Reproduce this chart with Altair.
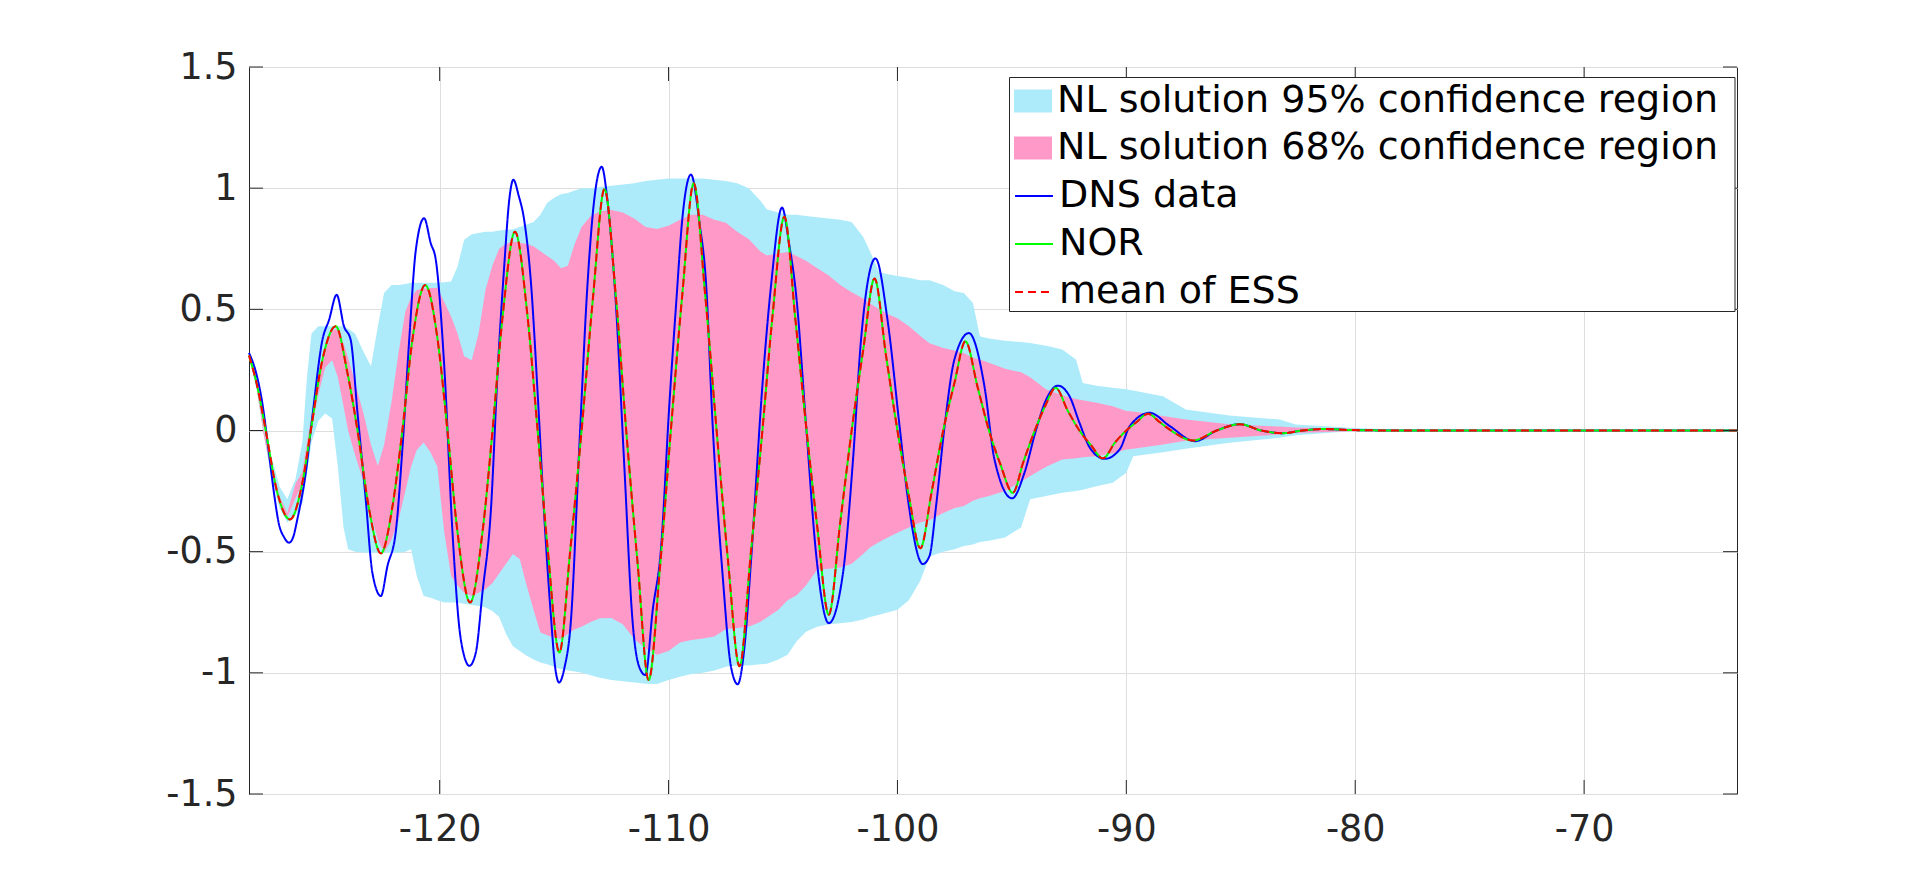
import altair as alt
import pandas as pd

# ---------------- data ----------------
band_x = [-128.33, -128.0, -127.7, -127.4, -127.0, -126.66, -126.3, -126.0, -125.8, -125.6,
          -125.3, -125.0, -124.7, -124.45, -124.2, -124.0, -123.7, -123.3, -123.0, -122.7,
          -122.43, -122.1, -121.8, -121.5, -121.25, -121.0, -120.7, -120.4, -120.1, -119.8,
          -119.5, -119.22, -118.93, -118.6, -118.3, -118.0, -117.7, -117.4, -117.1, -116.8,
          -116.5, -116.2, -115.9, -115.6, -115.3, -115.0, -114.7, -114.4, -114.1, -113.8,
          -113.4, -113.0, -112.5, -112.0, -111.5, -111.0, -110.5, -110.0, -109.5, -109.0,
          -108.5, -108.0, -107.5, -107.0, -106.5, -106.0, -105.7, -105.2, -104.8, -104.4,
          -104.0, -103.5, -103.0, -102.5, -102.0, -101.5, -101.2, -100.8, -100.4, -100.0,
          -99.5, -99.0, -98.6, -98.0, -97.5, -97.1, -96.7, -96.4, -96.0, -95.3,
          -94.6, -94.2, -93.5, -92.8, -92.2, -91.9, -91.3, -90.6, -90.0, -89.7,
          -88.4, -87.4, -85.5, -83.3, -82.6, -80.2, -78.0, -63.32]
u95 = [0.32, 0.22, 0.03, -0.09, -0.23, -0.284, -0.20, -0.05, 0.22, 0.40,
       0.43, 0.43, 0.43, 0.43, 0.43, 0.42, 0.40, 0.32, 0.265, 0.43,
       0.567, 0.60, 0.60, 0.605, 0.61, 0.61, 0.61, 0.61, 0.61, 0.612,
       0.615, 0.677, 0.787, 0.81, 0.815, 0.82, 0.82, 0.825, 0.828, 0.83,
       0.84, 0.85, 0.86, 0.89, 0.94, 0.96, 0.975, 0.98, 0.99, 1.0,
       1.0, 1.005, 1.01, 1.015, 1.02, 1.03, 1.035, 1.04, 1.04, 1.04,
       1.04, 1.035, 1.03, 1.02, 1.0, 0.95, 0.912, 0.90, 0.89, 0.89,
       0.885, 0.88, 0.875, 0.87, 0.86, 0.80, 0.74, 0.653, 0.645, 0.638,
       0.63, 0.62, 0.62, 0.60, 0.575, 0.567, 0.526, 0.389, 0.38, 0.37,
       0.365, 0.361, 0.35, 0.334, 0.293, 0.196, 0.185, 0.176, 0.17, 0.165,
       0.141, 0.087, 0.062, 0.045, 0.025, 0.011, 0.003, 0.0]
l95 = [0.30, 0.17, -0.01, -0.17, -0.32, -0.38, -0.35, -0.30, -0.18, -0.05,
       0.04, 0.07, 0.05, -0.15, -0.40, -0.49, -0.50, -0.504, -0.504, -0.504,
       -0.504, -0.504, -0.504, -0.50, -0.49, -0.60, -0.683, -0.69, -0.70, -0.71,
       -0.71, -0.71, -0.715, -0.72, -0.724, -0.73, -0.745, -0.77, -0.84, -0.89,
       -0.91, -0.93, -0.945, -0.957, -0.965, -0.975, -0.985, -0.99, -0.995, -1.0,
       -1.01, -1.02, -1.03, -1.035, -1.04, -1.045, -1.046, -1.03, -1.016, -1.005,
       -1.0, -0.99, -0.975, -0.97, -0.97, -0.965, -0.963, -0.945, -0.925, -0.87,
       -0.83, -0.81, -0.80, -0.795, -0.79, -0.78, -0.77, -0.76, -0.75, -0.74,
       -0.70, -0.62, -0.52, -0.50, -0.49, -0.477, -0.47, -0.46, -0.455, -0.442,
       -0.40, -0.284, -0.27, -0.257, -0.25, -0.245, -0.23, -0.216, -0.174, -0.106,
       -0.09, -0.075, -0.051, -0.03, -0.02, -0.003, -0.002, 0.0]
u68 = [0.31, 0.20, 0.01, -0.12, -0.27, -0.34, -0.22, -0.17, -0.05, 0.06,
       0.20, 0.33, 0.41, 0.423, 0.36, 0.30, 0.20, 0.06, -0.06, -0.147,
       -0.06, 0.12, 0.32, 0.49, 0.55, 0.58, 0.585, 0.588, 0.588, 0.53,
       0.47, 0.40, 0.306, 0.29, 0.40, 0.58, 0.68, 0.75, 0.77, 0.78,
       0.775, 0.77, 0.76, 0.74, 0.72, 0.70, 0.67, 0.68, 0.77, 0.84,
       0.885, 0.905, 0.91, 0.90, 0.875, 0.84, 0.832, 0.845, 0.87, 0.89,
       0.89, 0.87, 0.857, 0.82, 0.79, 0.74, 0.722, 0.73, 0.737, 0.72,
       0.70, 0.67, 0.64, 0.60, 0.57, 0.545, 0.524, 0.50, 0.48, 0.463,
       0.43, 0.39, 0.36, 0.34, 0.33, 0.32, 0.30, 0.293, 0.28, 0.255,
       0.24, 0.22, 0.169, 0.145, 0.13, 0.125, 0.115, 0.10, 0.08, 0.078,
       0.06, 0.045, 0.026, 0.016, 0.012, 0.007, 0.002, 0.0]
l68 = [0.30, 0.18, -0.01, -0.15, -0.30, -0.36, -0.28, -0.22, -0.10, 0.0,
       0.15, 0.26, 0.29, 0.22, 0.10, 0.0, -0.10, -0.22, -0.35, -0.45,
       -0.504, -0.45, -0.37, -0.25, -0.15, -0.08, -0.05, -0.09, -0.15, -0.42,
       -0.60, -0.64, -0.67, -0.683, -0.67, -0.655, -0.63, -0.59, -0.55, -0.51,
       -0.53, -0.64, -0.74, -0.834, -0.845, -0.855, -0.86, -0.84, -0.82, -0.81,
       -0.79, -0.775, -0.774, -0.80, -0.86, -0.90, -0.925, -0.91, -0.875, -0.865,
       -0.858, -0.85, -0.82, -0.815, -0.81, -0.79, -0.772, -0.74, -0.70, -0.68,
       -0.64, -0.574, -0.57, -0.565, -0.55, -0.51, -0.483, -0.46, -0.44, -0.422,
       -0.40, -0.38, -0.37, -0.34, -0.32, -0.312, -0.29, -0.28, -0.27, -0.25,
       -0.21, -0.188, -0.15, -0.12, -0.115, -0.11, -0.106, -0.095, -0.078, -0.075,
       -0.058, -0.042, -0.03, -0.016, -0.01, -0.003, -0.002, 0.0]

dns_x = [-128.33, -128.04, -127.75, -127.46, -127.24, -127.02, -126.8, -126.58, -126.4, -126.22,
         -125.85, -125.56, -125.12, -124.83, -124.5, -124.18, -123.89, -123.59, -123.23, -122.94,
         -122.57, -122.28, -121.92, -121.63, -121.33, -121.04, -120.68, -120.39, -120.17, -119.8,
         -119.44, -119.15, -118.93, -118.7, -118.42, -118.13, -117.76, -117.47, -117.18, -116.95,
         -116.78, -116.55, -116.31, -116.01, -115.72, -115.43, -115.14, -114.95, -114.78, -114.55,
         -114.27, -113.9, -113.54, -113.24, -112.92, -112.66, -112.3, -111.93, -111.57, -111.28,
         -111.01, -110.69, -110.33, -109.97, -109.67, -109.38, -109.02, -108.65, -108.36, -108.07,
         -107.63, -107.27, -106.98, -106.68, -106.39, -105.91, -105.52, -105.04, -104.75, -104.42,
         -103.99, -103.55, -103.0, -102.38, -101.95, -101.58, -100.96, -100.42, -99.91, -99.54,
         -98.89, -98.6, -98.31, -97.94, -97.51, -96.88, -96.2, -95.76, -94.99, -94.45,
         -93.94, -93.5, -92.99, -92.48, -92.04, -91.6, -90.95, -90.29, -89.85, -88.98,
         -88.1, -87.0, -86.05, -85.04, -84.1, -83.15, -82.3, -81.4, -80.2, -78.0, -63.32]
dns_y = [0.32, 0.245, 0.114, -0.092, -0.257, -0.387, -0.44, -0.463, -0.44, -0.367,
         -0.174, 0.059, 0.375, 0.457, 0.56, 0.43, 0.375, 0.073, -0.284, -0.587,
         -0.683, -0.559, -0.42, -0.078, 0.375, 0.746, 0.876, 0.773, 0.705, 0.265,
         -0.42, -0.806, -0.93, -0.971, -0.916, -0.669, -0.326, 0.238, 0.677, 0.96,
         1.035, 0.97, 0.87, 0.608, 0.155, -0.353, -0.765, -0.98, -1.04, -0.98,
         -0.79, -0.07, 0.605, 0.958, 1.088, 0.94, 0.521, -0.152, -0.79, -0.976,
         -1.009, -0.74, -0.488, 0.1, 0.521, 0.891, 1.056, 0.857, 0.605, 0.016,
         -0.606, -0.976, -1.047, -0.89, -0.528, 0.173, 0.60, 0.92, 0.78, 0.554,
         0.02, -0.513, -0.795, -0.589, -0.132, 0.386, 0.71, 0.447, 0.02, -0.284,
         -0.551, -0.518, -0.31, 0.018, 0.293, 0.402, 0.183, -0.12, -0.28, -0.174,
         0.004, 0.128, 0.185, 0.141, 0.03, -0.07, -0.117, -0.078, 0.018, 0.073,
         0.018, -0.044, 0.0, 0.026, 0.0, -0.011, 0.0, 0.006, 0.002, 0.0, 0.0]

mean_x = [-128.33, -127.97, -127.6, -127.09, -126.54, -126.0, -125.63, -125.12, -124.54, -124.03,
          -123.59, -123.08, -122.57, -122.06, -121.63, -121.19, -120.63, -120.09, -119.66, -119.22,
          -118.67, -118.13, -117.69, -117.25, -116.71, -116.16, -115.72, -115.28, -114.77, -114.3,
          -113.8, -113.3, -112.8, -112.3, -111.85, -111.35, -110.87, -110.37, -109.9, -109.4,
          -108.9, -108.4, -107.9, -107.4, -106.9, -106.4, -105.9, -105.45, -104.94, -104.45,
          -103.97, -103.5, -103.0, -102.5, -102.0, -101.5, -101.0, -100.5, -100.0, -99.5,
          -99.0, -98.5, -98.0, -97.5, -97.03, -96.5, -96.0, -95.5, -94.96, -94.5,
          -94.0, -93.55, -93.09, -92.55, -92.05, -91.55, -91.02, -90.5, -90.0, -89.55,
          -89.05, -88.55, -88.05, -87.08, -86.05, -85.04, -84.1, -83.15, -82.3, -81.4,
          -80.2, -78.0, -63.32]
mean_y = [0.31, 0.183, 0.0, -0.257, -0.367, -0.216, 0.0, 0.293, 0.43, 0.238,
          0.0, -0.326, -0.507, -0.312, 0.0, 0.375, 0.60, 0.375, 0.0, -0.42,
          -0.71, -0.42, 0.0, 0.47, 0.82, 0.47, 0.0, -0.49, -0.916, -0.5,
          0.0, 0.55, 0.996, 0.55, 0.0, -0.55, -1.03, -0.56, 0.0, 0.56,
          1.02, 0.56, 0.0, -0.54, -0.973, -0.5, 0.0, 0.48, 0.882, 0.45,
          0.0, -0.4, -0.76, -0.38, 0.0, 0.33, 0.627, 0.31, 0.0, -0.27,
          -0.486, -0.25, 0.0, 0.2, 0.368, 0.18, 0.0, -0.14, -0.257, -0.13,
          0.0, 0.1, 0.176, 0.08, 0.0, -0.06, -0.115, -0.05, 0.0, 0.035,
          0.069, 0.035, 0.0, -0.041, 0.0, 0.026, 0.0, -0.011, 0.0, 0.006,
          0.002, 0.0, 0.0]
nor_x = list(mean_x)
nor_y = list(mean_y)

x_ticks = [-120, -110, -100, -90, -80, -70]
y_ticks = [-1.5, -1.0, -0.5, 0.0, 0.5, 1.0, 1.5]
band_labels = ["NL solution 95% confidence region", "NL solution 68% confidence region"]
line_labels = ["DNS data", "NOR", "mean of ESS"]

# ---------------- styling ----------------
W, H = 1488, 727
FONT = "DejaVu Sans"
TXT = "#262626"
BLUE95 = "#ADEBFA"
PINK68 = "#FF99C8"
HYPHEN_EXPR = "replace(datum.label, '\u2212', '-')"

xscale = alt.Scale(domain=[-128.33, -63.32], nice=False, zero=False)
yscale = alt.Scale(domain=[-1.5, 1.5], nice=False, zero=False)
xaxis = alt.Axis(values=x_ticks, format="d", labelExpr=HYPHEN_EXPR, title="", grid=True,
                 labelPadding=17, labelFontSize=36.5, labelFont=FONT, labelColor=TXT)
yaxis = alt.Axis(values=y_ticks, format=".1~f", labelExpr=HYPHEN_EXPR, title="", grid=True,
                 labelPadding=12, labelFontSize=36.5, labelFont=FONT, labelColor=TXT)

fill_scale = alt.Scale(domain=band_labels, range=[BLUE95, PINK68])
stroke_scale = alt.Scale(domain=line_labels, range=["#0000FF", "#00FF00", "#FF0000"])
dash_scale = alt.Scale(domain=line_labels, range=[[1, 0], [1, 0], [8, 5]])

legend_fill = alt.Legend(orient="none", legendX=765, legendY=15, title="",
                         symbolType="M-1,-0.6H1V0.6H-1Z", symbolSize=1444,
                         symbolStrokeWidth=0, symbolOpacity=1, labelFontSize=38,
                         labelFont=FONT, labelColor="black", labelOffset=5,
                         rowPadding=9, labelLimit=2000, padding=0)
legend_line = alt.Legend(orient="none", legendX=765, legendY=109, title="",
                         symbolType="stroke", symbolSize=1444, symbolStrokeWidth=2,
                         labelFontSize=38, labelFont=FONT, labelColor="black",
                         labelOffset=5, rowPadding=9, labelLimit=2000, padding=0)

band_df = pd.DataFrame({"x": band_x, "u95": u95, "l95": l95, "u68": u68, "l68": l68})
dns_df = pd.DataFrame({"x": dns_x, "y": dns_y})
nor_df = pd.DataFrame({"x": nor_x, "y": nor_y})
mean_df = pd.DataFrame({"x": mean_x, "y": mean_y})

XE = lambda f: alt.X(f, scale=xscale, axis=xaxis)
YE = lambda f: alt.Y(f, scale=yscale, axis=yaxis)

area95 = alt.Chart(band_df).transform_calculate(series=f"'{band_labels[0]}'").mark_area().encode(
    x=XE("x:Q"), y=YE("u95:Q"), y2="l95:Q",
    fill=alt.Fill("series:N", scale=fill_scale, legend=legend_fill),
)
area68 = alt.Chart(band_df).transform_calculate(series=f"'{band_labels[1]}'").mark_area().encode(
    x=XE("x:Q"), y=YE("u68:Q"), y2="l68:Q",
    fill=alt.Fill("series:N", scale=fill_scale, legend=legend_fill),
)


def line_layer(df, label, width):
    return alt.Chart(df).transform_calculate(series=f"'{label}'").mark_line(
        interpolate="monotone", strokeWidth=width).encode(
        x=XE("x:Q"), y=YE("y:Q"),
        stroke=alt.Stroke("series:N", scale=stroke_scale, legend=legend_line),
        strokeDash=alt.StrokeDash("series:N", scale=dash_scale, legend=legend_line),
    )


dns = line_layer(dns_df, line_labels[0], 2)
nor = line_layer(nor_df, line_labels[1], 2)
mean = line_layer(mean_df, line_labels[2], 2)

xt = pd.DataFrame({"x": x_ticks})
yt = pd.DataFrame({"y": y_ticks})
tick_bottom = alt.Chart(xt).mark_rule(color=TXT, strokeWidth=1).encode(
    x=XE("x:Q"), y=alt.value(H), y2=alt.value(H - 14))
tick_top = alt.Chart(xt).mark_rule(color=TXT, strokeWidth=1).encode(
    x=XE("x:Q"), y=alt.value(0), y2=alt.value(14))
tick_left = alt.Chart(yt).mark_rule(color=TXT, strokeWidth=1).encode(
    y=YE("y:Q"), x=alt.value(0), x2=alt.value(14))
tick_right = alt.Chart(yt).mark_rule(color=TXT, strokeWidth=1).encode(
    y=YE("y:Q"), x=alt.value(W - 14), x2=alt.value(W))

legend_box = alt.Chart(alt.Data(values=[{}])).mark_rect(
    fill="white", stroke=TXT, strokeWidth=1).encode(
    x=alt.value(760.5), x2=alt.value(1486), y=alt.value(10.5), y2=alt.value(244.5))

chart = alt.layer(
    area95, area68, dns, nor, mean,
    tick_bottom, tick_top, tick_left, tick_right, legend_box,
).properties(
    width=W, height=H,
    autosize=alt.AutoSizeParams(type="none"),
    padding={"left": 241, "top": 59, "right": 175, "bottom": 91},
    background="white",
).configure_view(
    stroke=TXT, strokeWidth=1,
).configure_axis(
    domain=False, ticks=False, gridColor="#DEDEDE", gridWidth=1,
    labelFont=FONT, labelColor=TXT, labelFontSize=36.5,
)

chart.save("out.html", embed_options={"renderer": "svg", "actions": False})
